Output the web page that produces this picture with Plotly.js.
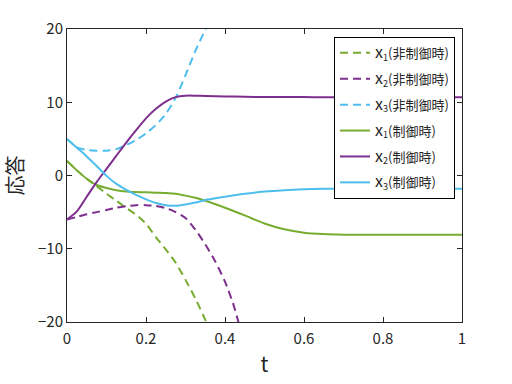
<!DOCTYPE html>
<html>
<head>
<meta charset="utf-8">
<script src="https://cdn.plot.ly/plotly-3.0.1.min.js"></script>
<style>html,body{margin:0;padding:0;background:#fff;}#plot{width:512px;height:384px;}</style>
</head>
<body>
<div id="plot"></div>
<script>
// Time samples (t)
const tCtrl = [0, 0.025, 0.05, 0.075, 0.1, 0.125, 0.15, 0.175, 0.2, 0.225, 0.25, 0.275, 0.3, 0.325, 0.35, 0.4, 0.45, 0.5, 0.55, 0.6, 0.65, 0.7, 0.8, 0.9, 1.0];
// Controlled responses
const x1Ctrl = [2.0, 0.7, -0.45, -1.3, -1.7, -2.0, -2.17, -2.25, -2.3, -2.35, -2.4, -2.5, -2.75, -3.05, -3.45, -4.4, -5.45, -6.55, -7.35, -7.8, -8.0, -8.08, -8.1, -8.1, -8.1];
const x2Ctrl = [-6.0, -4.9, -2.9, -0.9, 0.9, 2.7, 4.5, 6.2, 7.8, 9.1, 10.1, 10.7, 10.9, 10.9, 10.85, 10.8, 10.75, 10.72, 10.7, 10.7, 10.68, 10.68, 10.67, 10.67, 10.67];
const x3Ctrl = [5.0, 3.8, 2.6, 1.3, -0.05, -1.15, -1.95, -2.65, -3.25, -3.75, -4.05, -4.12, -3.95, -3.7, -3.35, -2.9, -2.5, -2.2, -2.0, -1.88, -1.82, -1.8, -1.8, -1.8, -1.8];

// Uncontrolled responses
const tUnc1 = [0, 0.025, 0.05, 0.075, 0.1, 0.125, 0.15, 0.175, 0.2, 0.225, 0.25, 0.275, 0.3, 0.325, 0.35, 0.356];
const x1Unc = [2.0, 0.7, -0.45, -1.45, -2.5, -3.45, -4.43, -5.35, -6.6, -8.4, -10.1, -11.9, -14.25, -16.8, -19.7, -20.5];
const tUnc2 = [0, 0.025, 0.05, 0.075, 0.1, 0.125, 0.15, 0.175, 0.2, 0.225, 0.25, 0.275, 0.3, 0.325, 0.35, 0.375, 0.4, 0.42, 0.435];
const x2Unc = [-6.0, -5.65, -5.3, -5.0, -4.7, -4.4, -4.2, -4.05, -4.05, -4.15, -4.45, -5.0, -5.8, -7.4, -9.4, -11.7, -14.5, -17.4, -20.2];
const tUnc3 = [0, 0.025, 0.05, 0.075, 0.1, 0.125, 0.15, 0.175, 0.2, 0.225, 0.25, 0.275, 0.3, 0.325, 0.35, 0.356];
const x3Unc = [5.0, 3.85, 3.5, 3.38, 3.38, 3.6, 4.15, 4.85, 5.75, 6.9, 8.4, 10.6, 13.7, 17.0, 19.9, 20.6];

const varLabels = ['1', '2', '3'];
const caseLabels = ['(非制御時)', '(制御時)'];
const xTickVals = [0, 0.2, 0.4, 0.6, 0.8, 1];
const xTickText = ['0', '0.2', '0.4', '0.6', '0.8', '1'];
const yTickVals = [-20, -10, 0, 10, 20];

function legendName(v, c) {
  return '<span style="font-size:16px">x</span><sub>' + varLabels[v] + '</sub>' + caseLabels[c];
}

const cGreen = '#77AC30', cPurple = '#7E2F8E', cCyan = '#4DBEEE';
const dashPat = '8px,5px';

function tr(x, y, name, color, dash, g) {
  return {x: x, y: y, name: name, type: 'scatter', mode: 'lines', legendgroup: g,
    line: {color: color, width: 2, dash: dash, shape: 'spline', smoothing: 0.7}};
}

const data = [
  tr(tUnc1, x1Unc, legendName(0, 0), cGreen, dashPat, 'a'),
  tr(tUnc2, x2Unc, legendName(1, 0), cPurple, dashPat, 'b'),
  tr(tUnc3, x3Unc, legendName(2, 0), cCyan, dashPat, 'c'),
  tr(tCtrl, x1Ctrl, legendName(0, 1), cGreen, 'solid', 'd'),
  tr(tCtrl, x2Ctrl, legendName(1, 1), cPurple, 'solid', 'e'),
  tr(tCtrl, x3Ctrl, legendName(2, 1), cCyan, 'solid', 'f')
];

const fontFam = '"Noto Sans CJK JP", "Noto Sans", sans-serif';
const layout = {
  width: 512, height: 384,
  margin: {l: 67, r: 50, t: 29, b: 62},
  paper_bgcolor: '#fff', plot_bgcolor: '#fff',
  font: {family: fontFam, color: '#262626', size: 14},
  showlegend: true,
  legend: {x: 0.676, y: 0.973, xanchor: 'left', yanchor: 'top',
    bgcolor: '#fff', bordercolor: '#000', borderwidth: 1,
    font: {family: fontFam, size: 13, color: '#262626'},
    traceorder: 'grouped', tracegroupgap: 6, itemwidth: 30},
  xaxis: {range: [0, 1], tickvals: xTickVals, ticktext: xTickText,
    ticks: 'inside', ticklen: 5, tickcolor: '#262626', mirror: 'ticks', showline: true,
    linecolor: '#262626', linewidth: 1, showgrid: false, zeroline: false,
    tickfont: {size: 15}, ticklabelstandoff: 3,
    title: {text: 't', font: {size: 21}, standoff: 10}},
  yaxis: {range: [-20, 20], tickvals: yTickVals,
    ticks: 'inside', ticklen: 5, tickcolor: '#262626', mirror: 'ticks', showline: true,
    linecolor: '#262626', linewidth: 1, showgrid: false, zeroline: false,
    tickfont: {size: 15},
    title: {text: '応答', font: {size: 20}, standoff: 12}}
};

Plotly.newPlot('plot', data, layout, {displayModeBar: false, staticPlot: true});
</script>
</body>
</html>
